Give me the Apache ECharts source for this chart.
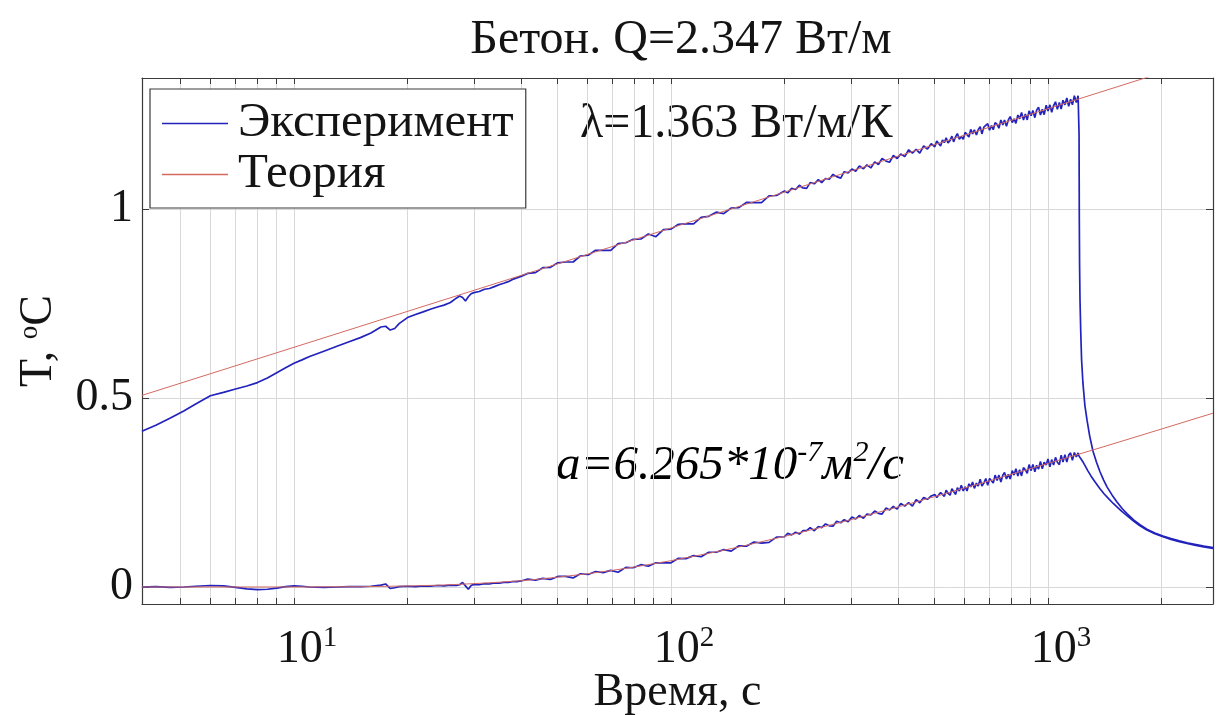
<!DOCTYPE html>
<html>
<head>
<meta charset="utf-8">
<script src="https://cdn.jsdelivr.net/npm/echarts@6/dist/echarts.min.js"></script>
<style>
  html, body { margin: 0; padding: 0; background: #fff; }
  #chart { width: 1220px; height: 715px; }
</style>
</head>
<body>
<div id="chart"></div>
<script>
// ---- Heating stage: shared time grid, s ----
const tHeat = [
  3.95, 4.3, 4.7, 5.1, 5.5, 6, 6.5, 7, 7.5, 8,
  8.5, 9, 9.5, 10, 10.5, 11, 12, 13, 14, 15,
  16, 17, 17.5, 18, 18.5, 19, 20, 21, 22, 23,
  24, 25, 26, 27, 27.5, 28, 28.5, 29, 29.5, 30,
  31, 32, 33, 34, 35, 36, 37, 38, 39, 40,
  41.7, 43.7, 45.7, 47.9, 50.1, 52.5, 55.0, 57.5, 60.3, 63.1,
  66.1, 69.2, 72.4, 75.9, 79.4, 83.2, 87.1, 91.2, 95.5, 100,
  104.7, 109.6, 114.8, 120.2, 125.9, 131.8, 138.0, 144.5, 151.4, 158.5,
  166.0, 173.8, 182.0, 190.5,
  200, 204, 209, 214, 219, 224, 229, 234, 240, 246,
  251, 257, 263, 269, 275, 282, 288, 295, 302, 309,
  316, 324, 331, 339, 347, 355, 363, 372, 380, 389,
  398, 407, 417, 427, 437, 447, 457, 468, 479, 490,
  501, 507, 513, 519, 525, 531, 537, 543, 550, 556,
  562, 569, 575, 582, 589, 596, 603, 610, 617, 624,
  631, 638, 646, 653, 661, 668, 676, 684, 692, 700,
  708, 716, 724, 733, 741, 750, 759, 767, 776, 785,
  794, 804, 813, 822, 832, 841, 851, 861, 871, 881,
  891, 902, 912, 923, 933, 944, 955, 966, 977, 989,
  1000, 1012, 1023, 1035, 1047, 1059, 1072, 1084, 1096, 1109,
  1122, 1135, 1148, 1161, 1175, 1189, 1202, 1208
];

// Measured temperature at the heater (upper curve), °C
const heatUpper = [
  0.412, 0.428, 0.447, 0.466, 0.485, 0.506, 0.515, 0.524, 0.532, 0.541,
  0.553, 0.567, 0.580, 0.592, 0.601, 0.610, 0.624, 0.637, 0.649, 0.660,
  0.672, 0.688, 0.690, 0.680, 0.684, 0.697, 0.713, 0.721, 0.728, 0.735,
  0.741, 0.746, 0.753, 0.765, 0.770, 0.766, 0.757, 0.768, 0.776, 0.779,
  0.782, 0.788, 0.790, 0.795, 0.800, 0.804, 0.808, 0.814, 0.818, 0.822,
  0.830, 0.832, 0.845, 0.846, 0.858, 0.860, 0.860, 0.876, 0.878, 0.891,
  0.891, 0.891, 0.909, 0.911, 0.920, 0.921, 0.934, 0.927, 0.946, 0.947,
  0.960, 0.961, 0.961, 0.978, 0.981, 0.992, 0.988, 1.003, 1.004, 1.018,
  1.017, 1.017, 1.035, 1.036,
  1.048, 1.043, 1.055, 1.052, 1.063, 1.056, 1.055, 1.070, 1.067, 1.078,
  1.070, 1.081, 1.079, 1.092, 1.086, 1.082, 1.099, 1.096, 1.106, 1.100,
  1.114, 1.107, 1.117, 1.109, 1.125, 1.118, 1.134, 1.127, 1.124, 1.142,
  1.134, 1.146, 1.139, 1.157, 1.148, 1.158, 1.148, 1.167, 1.159, 1.173,
  1.165, 1.180, 1.176, 1.167, 1.183, 1.176, 1.189, 1.175, 1.182, 1.193,
  1.178, 1.192, 1.200, 1.185, 1.192, 1.185, 1.203, 1.200, 1.191, 1.211,
  1.199, 1.210, 1.196, 1.210, 1.218, 1.199, 1.217, 1.212, 1.226, 1.209,
  1.221, 1.210, 1.229, 1.224, 1.214, 1.236, 1.223, 1.236, 1.219, 1.236,
  1.245, 1.229, 1.239, 1.227, 1.249, 1.239, 1.256, 1.236, 1.252, 1.236,
  1.260, 1.247, 1.261, 1.242, 1.262, 1.270, 1.249, 1.264, 1.250, 1.275,
  1.260, 1.276, 1.256, 1.274, 1.284, 1.264, 1.282, 1.265, 1.288, 1.276,
  1.294, 1.272, 1.291, 1.276, 1.300, 1.282, 1.300, 1.298
];

// Measured temperature at the distant probe (lower curve), °C
const heatLower = [
  0.000, 0.001, -0.001, 0.000, 0.002, 0.004, 0.003, -0.001, -0.005, -0.007,
  -0.006, -0.003, 0.001, 0.003, 0.002, 0.000, -0.001, 0.000, 0.001, 0.001,
  0.002, 0.005, 0.008, -0.004, -0.002, 0.001, 0.002, 0.001, 0.003, 0.002,
  0.004, 0.003, 0.005, 0.004, 0.006, 0.012, 0.003, -0.006, 0.004, 0.007,
  0.006, 0.009, 0.008, 0.011, 0.010, 0.012, 0.012, 0.014, 0.014, 0.016,
  0.021, 0.018, 0.023, 0.020, 0.028, 0.028, 0.024, 0.035, 0.033, 0.041,
  0.038, 0.044, 0.039, 0.052, 0.051, 0.059, 0.055, 0.064, 0.064, 0.064,
  0.076, 0.075, 0.083, 0.080, 0.092, 0.092, 0.099, 0.095, 0.109, 0.108,
  0.119, 0.116, 0.118, 0.132,
  0.133, 0.142, 0.138, 0.145, 0.140, 0.149, 0.149, 0.157, 0.149, 0.160,
  0.157, 0.167, 0.162, 0.161, 0.174, 0.170, 0.178, 0.173, 0.185, 0.180,
  0.189, 0.182, 0.193, 0.191, 0.201, 0.195, 0.193, 0.209, 0.204, 0.213,
  0.206, 0.221, 0.214, 0.223, 0.214, 0.231, 0.223, 0.237, 0.232, 0.241,
  0.245, 0.237, 0.234, 0.250, 0.247, 0.240, 0.256, 0.248, 0.243, 0.260,
  0.255, 0.245, 0.263, 0.254, 0.269, 0.254, 0.265, 0.254, 0.273, 0.265,
  0.278, 0.261, 0.275, 0.267, 0.285, 0.267, 0.275, 0.287, 0.269, 0.287,
  0.285, 0.275, 0.296, 0.282, 0.296, 0.278, 0.296, 0.303, 0.286, 0.298,
  0.286, 0.308, 0.296, 0.313, 0.294, 0.310, 0.294, 0.316, 0.310, 0.301,
  0.324, 0.308, 0.324, 0.305, 0.322, 0.312, 0.332, 0.313, 0.330, 0.323,
  0.339, 0.318, 0.337, 0.323, 0.343, 0.330, 0.324, 0.349, 0.331, 0.350,
  0.331, 0.349, 0.355, 0.335, 0.356, 0.344, 0.355, 0.347
];

// ---- Cooling stage (heater switched off) ----
const tCoolUpper = [
  1209, 1210, 1211, 1213, 1216, 1222, 1228, 1238, 1253, 1270,
  1290, 1316, 1345, 1374, 1405, 1434, 1480, 1524, 1575, 1620,
  1690, 1754, 1830, 1920, 2018, 2120, 2230, 2337, 2450, 2590, 2740
];
const coolUpper = [
  1.200, 1.080, 0.970, 0.850, 0.760, 0.670, 0.600, 0.540, 0.480, 0.440,
  0.400, 0.360, 0.330, 0.305, 0.283, 0.265, 0.243, 0.225, 0.207, 0.194,
  0.177, 0.165, 0.153, 0.143, 0.135, 0.128, 0.122, 0.117, 0.113, 0.108, 0.104
];
const tCoolLower = [
  1209, 1215, 1225, 1240, 1253, 1275, 1300, 1335, 1374, 1410,
  1450, 1490, 1524, 1570, 1620, 1690, 1754, 1830, 1920, 2018,
  2120, 2230, 2337, 2450, 2590, 2740
];
const coolLower = [
  0.345, 0.343, 0.338, 0.330, 0.322, 0.308, 0.294, 0.277, 0.260, 0.246,
  0.233, 0.221, 0.212, 0.200, 0.189, 0.174, 0.162, 0.151, 0.141, 0.133,
  0.126, 0.120, 0.115, 0.111, 0.106, 0.102
];

// ---- Theory (line heat source model) ----
const tTheoryUpper = [3.95, 2740];
const theoryUpper = [0.507, 1.404];
const tTheoryLower = [
  3.95, 10, 15, 20, 25, 30, 35, 40, 45, 50,
  60, 70, 80, 100, 125, 150, 200, 250, 300, 400,
  500, 700, 1000, 1400, 2000, 2740
];
const theoryLower = [
  0.000, 0.0001, 0.0008, 0.0026, 0.0052, 0.0089, 0.0126, 0.0165, 0.0212, 0.026,
  0.035, 0.044, 0.053, 0.0696, 0.0884, 0.105, 0.134, 0.1577, 0.178, 0.2118,
  0.239, 0.281, 0.327, 0.3707, 0.418, 0.460
];

// ---- Axes ----
const xRange = [3.952, 2740];
const yRange = [-0.045, 1.347];
const xTickValues = [
  5, 6, 7, 8, 9, 10, 20, 30, 40, 50, 60, 70, 80, 90, 100,
  200, 300, 400, 500, 600, 700, 800, 900, 1000, 2000
];
const xLabelValues = [10, 100, 1000];
const yTickValues = [0, 0.5, 1];

const pairs = (xs, ys) => xs.map((x, i) => [x, ys[i]]);

const FONT = "'Liberation Serif', 'Times New Roman', serif";
const INK = '#141414';
const FRAME = '#3a3a3a';
const GRID = '#d8d8d8';
const BLUE = '#2222bd';
const RED = '#d26a62';

const chart = echarts.init(document.getElementById('chart'), null, { renderer: 'canvas' });

const boxAxisX = (pos, showLabel) => ({
  type: 'log',
  logBase: 10,
  min: xRange[0],
  max: xRange[1],
  position: pos,
  axisLine: { show: true, onZero: false, lineStyle: { color: FRAME, width: 1.2 } },
  axisTick: { show: true, inside: true, length: 6, customValues: xTickValues,
              lineStyle: { color: FRAME, width: 1 } },
  axisLabel: showLabel ? {
    customValues: xLabelValues,
    margin: 20,
    formatter: v => '{b|10}{s|' + Math.round(Math.log10(v)) + '}',
    rich: {
      b: { fontFamily: FONT, fontSize: 46, color: INK, lineHeight: 52, padding: [0, 0, 0, 26] },
      s: { fontFamily: FONT, fontSize: 29, color: INK, lineHeight: 29, verticalAlign: 'top' }
    }
  } : { show: false },
  splitLine: { show: showLabel, lineStyle: { color: GRID, width: 1 } },
  minorTick: { show: false },
  minorSplitLine: { show: false }
});

const boxAxisY = (pos, showLabel) => ({
  type: 'value',
  min: yRange[0],
  max: yRange[1],
  position: pos,
  axisLine: { show: true, onZero: false, lineStyle: { color: FRAME, width: 1.2 } },
  axisTick: { show: true, inside: true, length: 7, customValues: yTickValues,
              lineStyle: { color: FRAME, width: 1 } },
  axisLabel: showLabel ? {
    customValues: yTickValues,
    margin: 9,
    fontFamily: FONT, fontSize: 46, color: INK
  } : { show: false },
  splitLine: { show: showLabel, lineStyle: { color: GRID, width: 1 } }
});

const xBottom = boxAxisX('bottom', true);
Object.assign(xBottom, {
  name: 'Время, с',
  nameLocation: 'middle',
  nameGap: 66,
  nameMoveOverlap: false,
  nameTextStyle: { fontFamily: FONT, fontSize: 46, color: INK, lineHeight: 46 }
});
const yLeft = boxAxisY('left', true);
Object.assign(yLeft, {
  name: 'T, {s|o}C',
  nameLocation: 'middle',
  nameGap: 80,
  nameMoveOverlap: false,
  nameTextStyle: {
    fontFamily: FONT, fontSize: 46, color: INK,
    rich: { s: { fontFamily: FONT, fontSize: 27, color: INK, verticalAlign: 'top', lineHeight: 27 } }
  }
});

const lineSeries = (name, data, color, width, z) => ({
  name, type: 'line', data,
  symbol: 'none', showSymbol: false,
  lineStyle: { color, width },
  itemStyle: { color },
  z, silent: true, clip: true,
  xAxisIndex: 0, yAxisIndex: 0
});

chart.setOption({
  animation: false,
  backgroundColor: '#ffffff',
  title: {
    text: 'Бетон. Q=2.347 Вт/м',
    left: 676,
    top: 10,
    textAlign: 'center',
    textStyle: { fontFamily: FONT, fontSize: 48, fontWeight: 'normal', color: INK, lineHeight: 50 }
  },
  grid: { left: 142, right: 7, top: 78, bottom: 111, containLabel: false, outerBoundsMode: 'none' },
  legend: {
    data: ['Эксперимент', 'Теория'],
    orient: 'vertical',
    left: 150,
    top: 89,
    icon: 'rect',
    itemWidth: 66,
    itemHeight: 1.5,
    itemGap: 2,
    padding: [10, 12, 9, 12],
    backgroundColor: '#ffffff',
    borderColor: FRAME,
    borderWidth: 1.2,
    borderRadius: 0,
    textStyle: { fontFamily: FONT, fontSize: 49, color: INK, lineHeight: 47, padding: [0, 0, 0, 5] },
    selectedMode: false
  },
  xAxis: [xBottom, boxAxisX('top', false)],
  yAxis: [yLeft, boxAxisY('right', false)],
  graphic: [
    {
      type: 'text', left: 580, top: 100, silent: true,
      style: { text: 'λ=1.363 Вт/м/К', fontFamily: FONT, fontSize: 48, fill: INK }
    },
    {
      type: 'text', left: 556, top: 438, silent: true,
      style: {
        text: '{i|a=6.265*10}{s|-7}{i|м}{s|2}{i|/с}',
        rich: {
          i: { fontFamily: FONT, fontStyle: 'italic', fontSize: 49, color: INK, lineHeight: 56 },
          s: { fontFamily: FONT, fontStyle: 'italic', fontSize: 30, color: INK, lineHeight: 30, verticalAlign: 'top' }
        }
      }
    }
  ],
  series: [
    lineSeries('Эксперимент', pairs(tHeat, heatUpper).concat(pairs(tCoolUpper, coolUpper)), BLUE, 1.7, 3),
    lineSeries('Эксперимент', pairs(tHeat, heatLower).concat(pairs(tCoolLower, coolLower)), BLUE, 1.7, 3),
    lineSeries('Теория', pairs(tTheoryUpper, theoryUpper), RED, 1, 4),
    lineSeries('Теория', pairs(tTheoryLower, theoryLower), RED, 1, 4)
  ]
});
</script>
</body>
</html>
